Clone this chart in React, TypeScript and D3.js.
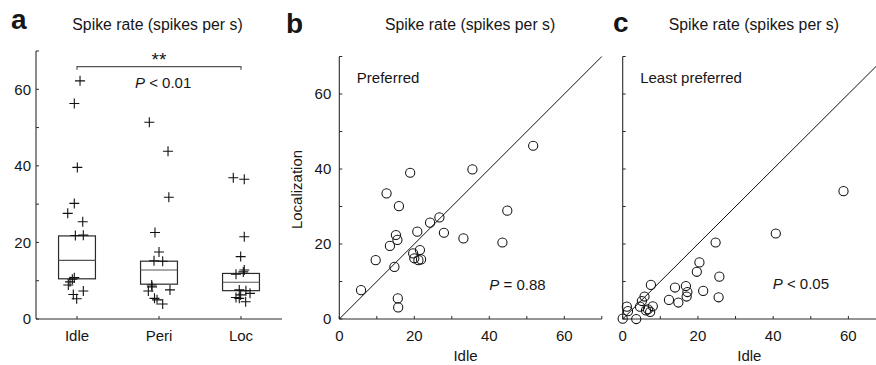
import React from "react";
import * as d3 from "d3";

// ---------- Panel a data ----------
const categories = ["Idle", "Peri", "Loc"];
// box stats: [q1, median, q3]
const boxStats = [
  [10.5, 15.3, 21.7],
  [9.1, 12.8, 15.1],
  [7.4, 9.6, 11.9],
];
const idleValues = [62.2, 56.3, 39.6, 30.2, 27.6, 25.4, 21.9, 21.8, 10.8, 10.4, 9.7, 8.9, 7.3, 6.4, 5.3];
const idleJitter = [0.037, -0.033, 0.004, -0.033, -0.113, 0.07, 0.077, -0.02, -0.033, -0.057, -0.085, -0.106, 0.077, -0.045, -0.004];
const periValues = [51.4, 43.8, 31.8, 22.6, 17.5, 15.2, 15.1, 8.9, 8.4, 7.3, 7.6, 5.4, 5.0, 3.9];
const periJitter = [-0.118, 0.11, 0.12, -0.049, 0.0, -0.061, 0.045, -0.089, -0.085, -0.13, 0.134, -0.055, -0.024, 0.045];
const locValues = [36.9, 36.5, 21.5, 16.3, 12.8, 12.3, 11.7, 7.6, 7.4, 6.7, 6.3, 5.6, 5.4, 4.5];
const locJitter = [-0.094, 0.04, 0.04, -0.004, 0.04, 0.028, -0.061, -0.021, 0.06, 0.11, -0.004, -0.061, -0.021, 0.057];
const yTicksA = [0, 10, 20, 30, 40, 50, 60, 70];
const yLabelsA = [0, 20, 40, 60];

// ---------- Panel b data (Preferred) ----------
const prefIdle = [5.8, 9.7, 12.6, 18.9, 15.9, 13.5, 15.1, 15.5, 14.7, 15.6, 15.7, 20.8, 19.7, 20.0, 21.5, 21.1, 21.8, 24.2, 26.7, 27.9, 33.1, 35.5, 43.5, 44.8, 51.7];
const prefLoc = [7.7, 15.7, 33.5, 39.0, 30.1, 19.5, 22.4, 21.1, 13.9, 5.5, 3.1, 23.3, 17.5, 16.2, 18.4, 15.7, 15.9, 25.7, 27.1, 23.0, 21.5, 39.9, 20.4, 28.9, 46.2];

// ---------- Panel c data (Least preferred) ----------
const leastIdle = [0.0, 1.1, 1.4, 3.6, 4.6, 5.1, 5.8, 6.2, 6.7, 7.3, 8.0, 7.5, 12.3, 13.9, 14.8, 16.8, 17.2, 17.0, 19.7, 20.4, 21.4, 24.7, 25.7, 25.5, 40.7, 58.7];
const leastLoc = [0.1, 3.3, 2.1, 0.0, 3.3, 4.8, 6.0, 2.3, 2.6, 1.9, 3.4, 9.1, 5.1, 8.4, 4.4, 8.8, 7.2, 6.0, 12.6, 15.1, 7.5, 20.4, 11.3, 5.8, 22.8, 34.1];

const scatterTicks = [0, 10, 20, 30, 40, 50, 60, 70];
const scatterLabels = [0, 20, 40, 60];

const FONT = "'Liberation Sans', Arial, Helvetica, sans-serif";
const INK = "#161616";
const AXIS = "#2a2a2a";

function PanelA() {
  const x = d3.scaleLinear().domain([0.5, 3.5]).range([36, 282]);
  const y = d3.scaleLinear().domain([0, 70]).range([319, 51]);
  const boxHalf = 0.225;
  const groups = [
    { v: idleValues, j: idleJitter },
    { v: periValues, j: periJitter },
    { v: locValues, j: locJitter },
  ];
  const arm = 5;
  const bracketY = y(65.9);
  return (
    <g>
      {/* axes */}
      <line x1={x(0.5)} x2={x(0.5)} y1={y(70)} y2={y(0)} stroke={AXIS} strokeWidth={1.1} />
      <line x1={x(0.5)} x2={x(3.5)} y1={y(0)} y2={y(0)} stroke={AXIS} strokeWidth={1.1} />
      {yTicksA.map((t) => (
        <line key={"yt" + t} x1={x(0.5)} x2={x(0.5) + 3} y1={y(t)} y2={y(t)} stroke={AXIS} />
      ))}
      {yLabelsA.map((t) => (
        <text key={"yl" + t} x={x(0.5) - 5} y={y(t)} dy="0.36em" textAnchor="end" fontSize={15} fill={INK}>
          {t}
        </text>
      ))}
      {categories.map((c, i) => (
        <g key={c}>
          <line x1={x(i + 1)} x2={x(i + 1)} y1={y(0)} y2={y(0) - 3} stroke={AXIS} />
          <text x={x(i + 1)} y={340.5} textAnchor="middle" fontSize={15} fill={INK}>
            {c}
          </text>
        </g>
      ))}
      {/* boxes */}
      {boxStats.map((s, i) => (
        <g key={"box" + i} stroke="#2a2a2a" strokeWidth={1.2} fill="none">
          <rect x={x(i + 1 - boxHalf)} y={y(s[2])} width={x(i + 1 + boxHalf) - x(i + 1 - boxHalf)} height={y(s[0]) - y(s[2])} />
          <line x1={x(i + 1 - boxHalf)} x2={x(i + 1 + boxHalf)} y1={y(s[1])} y2={y(s[1])} stroke="#555" />
        </g>
      ))}
      {/* points */}
      {groups.map((g, gi) =>
        g.v.map((v, k) => {
          const cx = x(gi + 1 + g.j[k]);
          const cy = y(v);
          return (
            <path
              key={`p${gi}-${k}`}
              d={`M${cx - arm},${cy}H${cx + arm}M${cx},${cy - arm}V${cy + arm}`}
              stroke="#111"
              strokeWidth={1.1}
              fill="none"
            />
          );
        })
      )}
      {/* significance bracket */}
      <path
        d={`M${x(1)},${bracketY + 3}V${bracketY}H${x(3)}V${bracketY + 3}`}
        stroke="#555"
        strokeWidth={1.2}
        fill="none"
      />
      <text x={(x(1) + x(3)) / 2} y={bracketY - 1} textAnchor="middle" fontSize={19} fill={INK}>
        **
      </text>
      <text x={135} y={87.5} fontSize={15} fill={INK}>
        <tspan fontStyle="italic">P</tspan> {"< 0.01"}
      </text>
      <text x={157.5} y={30} textAnchor="middle" fontSize={15.8} fill={INK}>
        Spike rate (spikes per s)
      </text>
      <text x={11} y={28.5} fontSize={28} fontWeight="bold" fill={INK}>
        a
      </text>
    </g>
  );
}

function Scatter({
  x0,
  x1,
  xs,
  ys,
  showYLabels,
  note,
  pText,
  letter,
  letterX,
  letterY,
}: {
  x0: number;
  x1: number;
  xs: number[];
  ys: number[];
  showYLabels: boolean;
  note: string;
  pText: [number, number, string];
  letter: string;
  letterX: number;
  letterY: number;
}) {
  const x = d3.scaleLinear().domain([0, 70]).range([x0, x1]);
  const y = d3.scaleLinear().domain([0, 70]).range([319, 56.5]);
  const titleX = x(35) - 0.5;
  return (
    <g>
      <line x1={x(0)} x2={x(0)} y1={y(70)} y2={y(0)} stroke={AXIS} strokeWidth={1.1} />
      <line x1={x(0)} x2={x(70)} y1={y(0)} y2={y(0)} stroke={AXIS} strokeWidth={1.1} />
      {scatterTicks.map((t) => (
        <g key={"t" + t}>
          <line x1={x(0)} x2={x(0) + 3} y1={y(t)} y2={y(t)} stroke={AXIS} />
          <line x1={x(t)} x2={x(t)} y1={y(0)} y2={y(0) - 3} stroke={AXIS} />
        </g>
      ))}
      {scatterLabels.map((t) => (
        <g key={"l" + t}>
          {showYLabels && (
            <text x={x(0) - 8} y={y(t)} dy="0.36em" textAnchor="end" fontSize={15} fill={INK}>
              {t}
            </text>
          )}
          <text x={x(t)} y={340.5} textAnchor="middle" fontSize={15} fill={INK}>
            {t}
          </text>
        </g>
      ))}
      <line x1={x(0)} y1={y(0)} x2={x(70)} y2={y(70)} stroke="#111" strokeWidth={1} />
      {xs.map((v, i) => (
        <circle key={i} cx={x(v)} cy={y(ys[i])} r={4.6} fill="none" stroke="#111" strokeWidth={1.05} />
      ))}
      <text x={x(0) + 17.5} y={83} fontSize={15} fill={INK}>
        {note}
      </text>
      <text x={pText[0]} y={pText[1]} fontSize={15} fill={INK}>
        <tspan fontStyle="italic">P</tspan> {pText[2]}
      </text>
      <text x={titleX} y={30} textAnchor="middle" fontSize={15.8} fill={INK}>
        Spike rate (spikes per s)
      </text>
      <text x={x(35) - 5} y={360.5} textAnchor="middle" fontSize={15} fill={INK}>
        Idle
      </text>
      {showYLabels && (
        <text transform={`translate(302,189.5) rotate(-90)`} textAnchor="middle" fontSize={15} fill={INK}>
          Localization
        </text>
      )}
      <text x={letterX} y={letterY} fontSize={28} fontWeight="bold" fill={INK}>
        {letter}
      </text>
    </g>
  );
}

export default function App() {
  return (
    <svg
      width={876}
      height={365}
      viewBox="0 0 876 365"
      style={{ position: "absolute", left: 0, top: 0, background: "#fff", fontFamily: FONT }}
    >
      <rect width={876} height={365} fill="#fff" />
      <PanelA />
      <Scatter
        x0={339.3}
        x1={601.8}
        xs={prefIdle}
        ys={prefLoc}
        showYLabels={true}
        note="Preferred"
        pText={[489.3, 289.5, "= 0.88"]}
        letter="b"
        letterX={286}
        letterY={33}
      />
      <Scatter
        x0={622.7}
        x1={886}
        xs={leastIdle}
        ys={leastLoc}
        showYLabels={false}
        note="Least preferred"
        pText={[772.7, 289, "< 0.05"]}
        letter="c"
        letterX={613}
        letterY={31.5}
      />
    </svg>
  );
}
